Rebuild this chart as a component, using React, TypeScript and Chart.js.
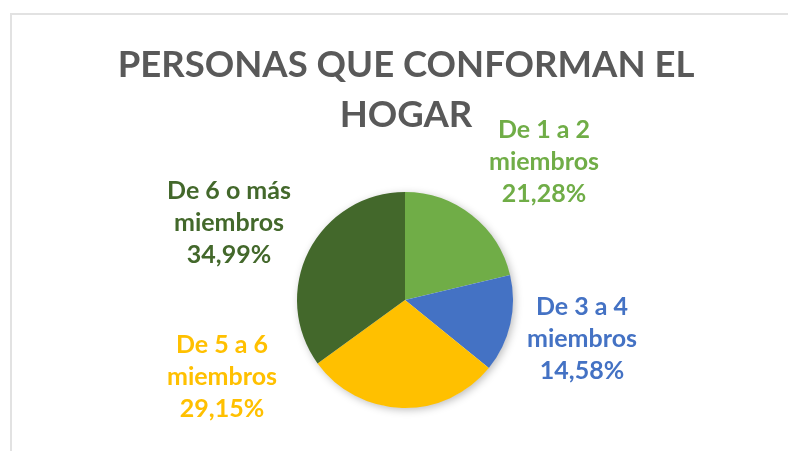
import React, { useEffect, useRef } from "react";
import { Chart, registerables } from "chart.js";

Chart.register(...registerables);

const titleLines = ["PERSONAS QUE CONFORMAN EL", "HOGAR"];
const categories = ["De 1 a 2 miembros", "De 3 a 4 miembros", "De 5 a 6 miembros", "De 6 o más miembros"];
const labelLines = [
  ["De 1 a 2", "miembros"],
  ["De 3 a 4", "miembros"],
  ["De 5 a 6", "miembros"],
  ["De 6 o más", "miembros"],
];
const values = [21.28, 14.58, 29.15, 34.99];
const percentLabels = ["21,28%", "14,58%", "29,15%", "34,99%"];
const colors = ["#70AD47", "#4472C4", "#FFC000", "#43682B"];

// label anchor: offset (px) of middle line baseline centre from pie centre
const labelAnchors = [
  { dx: 139, dy: -130 },
  { dx: 177, dy: 47 },
  { dx: -183, dy: 85 },
  { dx: -176, dy: -69 },
];

const FONT = "Lato, 'Open Sans', sans-serif";

const overlayPlugin = {
  id: "overlay",
  beforeDatasetsDraw(chart: any) {
    const ctx = chart.ctx;
    ctx.save();
    ctx.shadowColor = "rgba(0,0,0,0.28)";
    ctx.shadowBlur = 9;
    ctx.shadowOffsetX = 2;
    ctx.shadowOffsetY = 2;
    const arc = chart.getDatasetMeta(0).data[0];
    if (arc) {
      ctx.beginPath();
      ctx.arc(arc.x, arc.y, arc.outerRadius - 0.5, 0, Math.PI * 2);
      ctx.fillStyle = "#ffffff";
      ctx.fill();
    }
    ctx.restore();
  },
  afterDraw(chart: any) {
    const ctx = chart.ctx;
    ctx.save();
    ctx.textAlign = "center";
    ctx.textBaseline = "alphabetic";
    ctx.fillStyle = "#595959";
    ctx.font = `bold 36.5px ${FONT}`;
    const titleBaselines = [77, 127];
    titleLines.forEach((t, i) => ctx.fillText(t, 406, titleBaselines[i]));

    const meta = chart.getDatasetMeta(0);
    const arc0 = meta.data[0];
    ctx.font = `bold 25px ${FONT}`;
    values.forEach((_, i) => {
      const a = labelAnchors[i];
      const cx = arc0.x + a.dx;
      const cy = arc0.y + a.dy;
      ctx.fillStyle = colors[i];
      const lines = [...labelLines[i], percentLabels[i]];
      lines.forEach((ln, j) => ctx.fillText(ln, cx, cy + (j - 1) * 32));
    });
    ctx.restore();
  },
};

export default function App() {
  const ref = useRef<HTMLCanvasElement>(null);
  useEffect(() => {
    document.body.style.margin = "0";
    const chart = new Chart(ref.current!, {
      type: "pie",
      data: {
        labels: categories,
        datasets: [
          {
            data: values,
            backgroundColor: colors,
            borderWidth: 0,
          },
        ],
      },
      options: {
        animation: false,
        responsive: false,
        layout: { padding: { top: 191, bottom: 42, left: 297, right: 275 } },
        plugins: {
          legend: { display: false },
          title: { display: false },
          tooltip: { enabled: false },
        },
      },
      plugins: [overlayPlugin],
    });
    return () => chart.destroy();
  }, []);
  return (
    <div style={{ position: "relative", width: 788, height: 451, overflow: "hidden", background: "#fff" }}>
      <div
        style={{
          position: "absolute",
          left: 10,
          top: 13,
          width: 2000,
          height: 2000,
          borderLeft: "2px solid #e2e2e2",
          borderTop: "2px solid #e2e2e2",
        }}
      />
      <canvas ref={ref} width={788} height={451} style={{ position: "absolute", left: 0, top: 0, width: 788, height: 451 }} />
    </div>
  );
}
